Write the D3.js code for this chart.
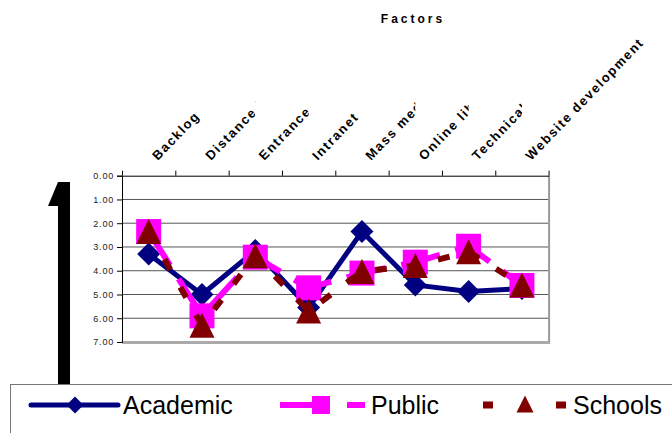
<!DOCTYPE html>
<html>
<head>
<meta charset="utf-8">
<script src="https://cdn.jsdelivr.net/npm/d3@7/dist/d3.min.js"></script>
<style>
  html, body { margin: 0; padding: 0; background: #fff; }
  svg { display: block; font-family: "Liberation Sans", Arial, sans-serif; }
</style>
</head>
<body>
<svg id="chart" width="672" height="433"></svg>
<script>
// Factor ratings (lower value = higher on the chart, axis is reversed)
const categories = ["Backlog", "Distance learning", "Entrance exams", "Intranet",
                    "Mass media", "Online library", "Technical support", "Website development"];
const academic = [3.30, 5.00, 3.15, 5.55, 2.35, 4.60, 4.87, 4.75];
const publicVals = [2.35, 5.90, 3.43, 4.72, 4.10, 3.64, 2.97, 4.62];
const schools = [2.35, 6.30, 3.37, 5.70, 4.03, 3.78, 3.20, 4.60];
const yTicks = [0, 1, 2, 3, 4, 5, 6, 7];
const seriesNames = ["Academic", "Public", "Schools"];
const title = "Factors";

const svg = d3.select("#chart");

const plot = { left: 122, right: 548.6, top: 175.7, bottom: 342 };

const x = d3.scaleBand().domain(categories).range([plot.left, plot.right]).padding(0);
const xEdge = d3.scaleLinear().domain([0, categories.length]).range([plot.left, plot.right]);
const y = d3.scaleLinear().domain([0, 7]).range([plot.top, plot.bottom]);
const cx = d => x(d) + x.bandwidth() / 2;

// Title
svg.append("text")
  .attr("x", 413).attr("y", 23)
  .attr("text-anchor", "middle")
  .attr("font-size", 12).attr("font-weight", "bold")
  .attr("letter-spacing", 3)
  .text(title);

// Gridlines
svg.append("g")
  .selectAll("line")
  .data(yTicks.slice(1))
  .join("line")
  .attr("x1", plot.left).attr("x2", plot.right)
  .attr("y1", d => y(d)).attr("y2", d => y(d))
  .attr("stroke", "#555").attr("stroke-width", 1);

// Right and bottom frame (grey)
svg.append("line")
  .attr("x1", plot.right + 0.5).attr("x2", plot.right + 0.5)
  .attr("y1", plot.top).attr("y2", plot.bottom + 2)
  .attr("stroke", "#999").attr("stroke-width", 2);
svg.append("line")
  .attr("x1", plot.left).attr("x2", plot.right + 1.5)
  .attr("y1", plot.bottom + 1).attr("y2", plot.bottom + 1)
  .attr("stroke", "#aaa").attr("stroke-width", 2);

// Left value axis
const yAxis = svg.append("g")
  .attr("transform", `translate(${plot.left},0)`)
  .call(d3.axisLeft(y).tickValues(yTicks).tickFormat(d3.format(".2f")).tickSize(5).tickPadding(3));
yAxis.select(".domain").attr("stroke", "#000");
yAxis.selectAll(".tick line").attr("stroke", "#000");
yAxis.selectAll(".tick text")
  .attr("font-family", "Liberation Sans, Arial, sans-serif")
  .attr("font-size", 9).attr("letter-spacing", 0.8).attr("fill", "#222");

// Top category axis (ticks on category boundaries)
const xAxis = svg.append("g")
  .attr("transform", `translate(0,${plot.top})`)
  .call(d3.axisTop(xEdge).tickValues(d3.range(0, categories.length + 1)).tickFormat("").tickSize(5).tickSizeOuter(0));
xAxis.select(".domain").attr("stroke", "#000");
xAxis.selectAll(".tick line").attr("stroke", "#000");

// Rotated category labels, each clipped at the next category centre
const defs = svg.append("defs");
categories.forEach((c, i) => {
  const right = i < categories.length - 1 ? cx(categories[i + 1]) : 672;
  defs.append("clipPath").attr("id", "clip" + i)
    .append("rect").attr("x", 0).attr("y", 0).attr("width", right).attr("height", plot.top);
});
svg.append("g")
  .selectAll("g")
  .data(categories)
  .join("g")
  .attr("clip-path", (d, i) => `url(#clip${i})`)
  .append("text")
  .attr("transform", d => `translate(${cx(d) + 9},${161}) rotate(-46)`)
  .attr("font-size", 13).attr("font-weight", "bold")
  .attr("letter-spacing", 1.6)
  .text(d => d);

// Series
const line = d3.line().x((d, i) => cx(categories[i])).y(d => y(d));

const diamond = s => `M0,${-s}L${s},0L0,${s}L${-s},0Z`;
const square = s => `M${-s},${-s}H${s}V${s}H${-s}Z`;
const triangle = s => `M0,${-s}L${s},${s}H${-s}Z`;

const series = [
  { name: seriesNames[0], values: academic, color: "#000080", width: 5, dash: null, marker: diamond, size: 11.5 },
  { name: seriesNames[1], values: publicVals, color: "#FF00FF", width: 6, dash: "40,16", marker: square, size: 12.5 },
  { name: seriesNames[2], values: schools, color: "#800000", width: 6, dash: "12,20", marker: triangle, size: 12.5 }
];

series.forEach(s => {
  const g = svg.append("g");
  g.append("path")
    .attr("d", line(s.values))
    .attr("fill", "none")
    .attr("stroke", s.color)
    .attr("stroke-width", s.width)
    .attr("stroke-dasharray", s.dash)
    .attr("stroke-linejoin", "miter");
  g.selectAll("path.m")
    .data(s.values)
    .join("path")
    .attr("class", "m")
    .attr("transform", (d, i) => `translate(${cx(categories[i])},${y(d)})`)
    .attr("d", s.marker(s.size))
    .attr("fill", s.color);
});

// Big black arrow on the left
svg.append("path")
  .attr("d", "M48,206 L58,182 L70,182 L70,384 L58,384 L58,206 Z")
  .attr("fill", "#000");

// Legend
const lg = svg.append("g");
lg.append("rect")
  .attr("x", 10.5).attr("y", 384.5).attr("width", 680).attr("height", 60)
  .attr("fill", "#fff").attr("stroke", "#777").attr("stroke-width", 1);

const ly = 405;
// Academic
lg.append("line").attr("x1", 31).attr("x2", 118).attr("y1", ly).attr("y2", ly)
  .attr("stroke", series[0].color).attr("stroke-width", 5).attr("stroke-linecap", "round");
lg.append("path").attr("transform", `translate(75,${ly})`).attr("d", diamond(8.5)).attr("fill", series[0].color);
lg.append("text").attr("x", 123).attr("y", 414).attr("font-size", 25).text(series[0].name);
// Public
lg.append("line").attr("x1", 280).attr("x2", 365).attr("y1", ly).attr("y2", ly)
  .attr("stroke", series[1].color).attr("stroke-width", 6).attr("stroke-dasharray", "37,30");
lg.append("path").attr("transform", `translate(321,${ly})`).attr("d", square(9)).attr("fill", series[1].color);
lg.append("text").attr("x", 371).attr("y", 414).attr("font-size", 25).text(series[1].name);
// Schools
lg.append("line").attr("x1", 483).attr("x2", 567).attr("y1", ly).attr("y2", ly)
  .attr("stroke", series[2].color).attr("stroke-width", 7).attr("stroke-dasharray", "10,63");
lg.append("path").attr("transform", `translate(525,${ly - 1})`).attr("d", triangle(8.5)).attr("fill", series[2].color);
lg.append("text").attr("x", 573).attr("y", 414).attr("font-size", 25).text(series[2].name);
</script>
</body>
</html>
